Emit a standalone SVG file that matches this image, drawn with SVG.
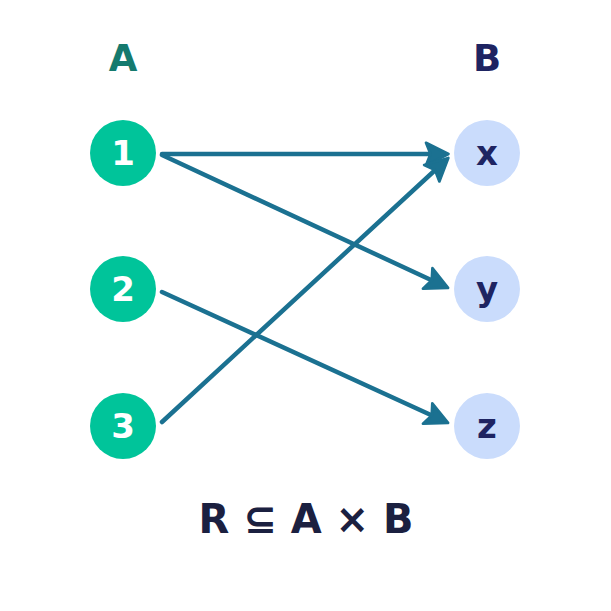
<svg xmlns="http://www.w3.org/2000/svg" width="611" height="611" viewBox="0 0 611 611">
<style>
text{font-family:"DejaVu Sans","Liberation Sans",sans-serif;font-weight:bold;text-anchor:middle;dominant-baseline:central}
.a{fill:#00c49a}
.b{fill:#cadcfc}
.ta{fill:#ffffff;font-size:34px}
.tb{fill:#1e2462;font-size:34px}
.e{stroke:#1b7191;stroke-width:4.5;fill:none;marker-end:url(#ar);stroke-linecap:round}
</style>
<defs>
<marker id="ar" viewBox="0 0 12 12" refX="9" refY="6" markerWidth="6" markerHeight="6" orient="auto" markerUnits="strokeWidth">
<path d="M1,1 L11,6 L1,11 L3,6 Z" fill="#1b7191" stroke="#1b7191" stroke-width="1.2" stroke-linejoin="round"/>
</marker>
</defs>
<rect width="611" height="611" fill="#ffffff"/>
<text x="123" y="58" style="fill:#157a6e;font-size:37px">A</text>
<text x="487" y="58" style="fill:#1e2462;font-size:37px">B</text>
<g id="edges">
<line class="e" x1="162" y1="154" x2="444" y2="154"/>
<line class="e" x1="162" y1="155" x2="444" y2="286"/>
<line class="e" x1="162" y1="292" x2="444" y2="421"/>
<line class="e" x1="162" y1="422" x2="445" y2="161"/>
</g>
<g id="n1"><circle class="a" cx="123" cy="153" r="33"/><text class="ta" x="123" y="153">1</text></g>
<g id="n2"><circle class="a" cx="123" cy="289" r="33"/><text class="ta" x="123" y="289">2</text></g>
<g id="n3"><circle class="a" cx="123" cy="426" r="33"/><text class="ta" x="123" y="426">3</text></g>
<g id="nx"><circle class="b" cx="487" cy="153" r="33"/><text class="tb" x="487" y="153">x</text></g>
<g id="ny"><circle class="b" cx="487" cy="289" r="33"/><text class="tb" x="487" y="289">y</text></g>
<g id="nz"><circle class="b" cx="487" cy="426" r="33"/><text class="tb" x="487" y="426">z</text></g>
<text x="306" y="519" style="fill:#1b2040;font-size:40px">R ⊆ A × B</text>
</svg>
